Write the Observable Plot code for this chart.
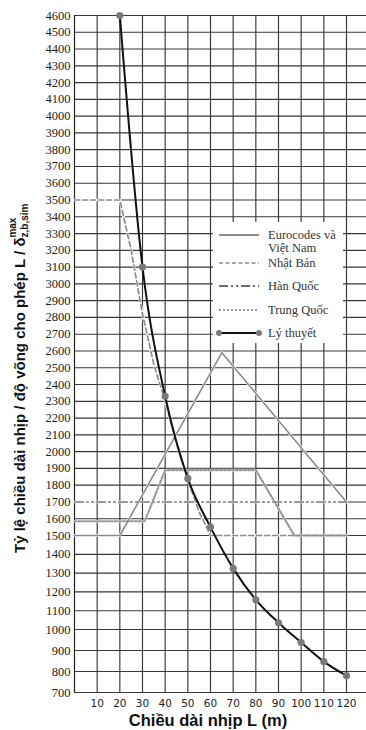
<!DOCTYPE html>
<html>
<head>
<meta charset="utf-8">
<script src="https://cdn.jsdelivr.net/npm/d3@7"></script>
<script src="https://cdn.jsdelivr.net/npm/@observablehq/plot@0.6"></script>
<style>
  html, body { margin: 0; padding: 0; background: #fff; }
  #wrap { position: relative; width: 366px; height: 730px; overflow: hidden; }
  #legend { position: absolute; left: 213px; top: 222px; width: 130px; height: 121px; background: #fff; }
</style>
</head>
<body>
<div id="wrap"></div>
<script>
// ---- data ----
const xTicks = [10, 20, 30, 40, 50, 60, 70, 80, 90, 100, 110, 120];
const yTicks = [700, 800, 900, 1000, 1100, 1200, 1300, 1400, 1500, 1600, 1700, 1800, 1900,
  2000, 2100, 2200, 2300, 2400, 2500, 2600, 2700, 2800, 2900, 3000, 3100, 3200, 3300,
  3400, 3500, 3600, 3700, 3800, 3900, 4000, 4100, 4200, 4300, 4400, 4500, 4600];

const euroL = [0, 20, 65, 120];
const euroV = [1500, 1500, 2590, 1700];

const japanL = [0, 20, 25, 30, 35, 40, 45, 50, 55, 60, 120];
const japanV = [3500, 3500, 3200, 2820, 2520, 2300, 2050, 1830, 1640, 1500, 1500];

const koreaL = [0, 120];
const koreaV = [1700, 1700];

const chinaL = [0, 31, 40, 80, 97, 120];
const chinaV = [1585, 1585, 1890, 1890, 1500, 1500];

const theoryL = [20, 30, 40, 50, 60, 70, 80, 90, 100, 110, 120];
const theoryV = [4600, 3100, 2330, 1840, 1550, 1325, 1158, 1036, 938, 847, 780];

const seriesNames = ["Eurocodes và|Việt Nam", "Nhật Bản", "Hàn Quốc", "Trung Quốc", "Lý thuyết"];

const toRows = (L, V) => L.map((l, i) => ({L: l, v: V[i]}));
const euro = toRows(euroL, euroV);
const japan = toRows(japanL, japanV);
const korea = toRows(koreaL, koreaV);
const china = toRows(chinaL, chinaV);
const theory = toRows(theoryL, theoryV);

const gridColor = "#383838";
const grayLine = "#8c8c8c";
const under = (rows) => Plot.line(rows, {x: "L", y: "v", stroke: "#fff", strokeWidth: 2.6});

const chart = Plot.plot({
  width: 366,
  height: 730,
  x: {domain: [0, 120], range: [74, 346], axis: null},
  y: {type: "linear", domain: [700, 1000, 1500, 4600], range: [692, 629, 535, 15], axis: null},
  style: {background: "#fff"},
  marks: [
    Plot.ruleY(yTicks, {y: d => d, x1: 0, x2: 130, stroke: gridColor, strokeWidth: 1.15}),
    Plot.ruleX(xTicks, {x: d => d, y1: 700, y2: 4600, stroke: gridColor, strokeWidth: 1.15}),
    Plot.ruleX([0], {x: d => d, y1: 700, y2: 4600, stroke: "#222", strokeWidth: 1.2}),
    Plot.text(yTicks, {x: 0, y: d => d, text: d => String(d), dx: -4, textAnchor: "end",
      fontFamily: "Liberation Serif", fontSize: 12.5, fill: "#222", ariaLabel: "ytick"}),
    Plot.text(xTicks, {x: d => d, y: 700, text: d => String(d), dy: 11,
      fontFamily: "DejaVu Sans", fontSize: 10.5, fill: "#222", ariaLabel: "xtick"}),
    under(korea), under(china), under(japan), under(euro),
    Plot.line(korea, {x: "L", y: "v", stroke: "#7a7a7a", strokeWidth: 1.4, strokeDasharray: "9,3,2,3,2,3"}),
    Plot.line(china, {x: "L", y: "v", stroke: "#999", strokeWidth: 2.2, strokeDasharray: "2,2"}),
    Plot.line(japan, {x: "L", y: "v", stroke: grayLine, strokeWidth: 1.7, strokeDasharray: "5,3"}),
    Plot.line(euro, {x: "L", y: "v", stroke: grayLine, strokeWidth: 1.6}),
    Plot.line(theory, {x: "L", y: "v", stroke: "#111", strokeWidth: 2, curve: "monotone-x"}),
    Plot.dot(theory, {x: "L", y: "v", r: 3.6, fill: "#7a7a7a", stroke: "none"})
  ]
});

d3.select(chart).selectAll('g[aria-label="ytick"] text').attr("letter-spacing", "1");

const svg = d3.select(chart);
// x axis title
svg.append("text")
  .attr("x", 208).attr("y", 726)
  .attr("text-anchor", "middle")
  .attr("font-family", "Liberation Sans, Arial, sans-serif")
  .attr("font-weight", "bold").attr("font-size", 16.5).attr("fill", "#111")
  .text("Chiều dài nhịp L (m)");

// y axis title with sub/superscript
const yt = svg.append("text")
  .attr("transform", "translate(25,553) rotate(-90)")
  .attr("text-anchor", "start")
  .attr("font-family", "Liberation Sans, Arial, sans-serif")
  .attr("font-weight", "bold").attr("font-size", 15).attr("fill", "#111");
yt.append("tspan").text("Tỷ lệ chiều dài nhịp / độ võng cho phép L / δ");
yt.append("tspan").attr("font-size", 10).attr("dy", 3).text("z,b,sim");
yt.append("tspan").attr("font-size", 10).attr("dx", -34).attr("dy", -12).text("max");

const wrap = document.getElementById("wrap");
wrap.appendChild(chart);

// legend overlay
const leg = document.createElement("div");
leg.id = "legend";
wrap.appendChild(leg);
const ls = d3.select(leg).append("svg").attr("width", 130).attr("height", 121);
const items = [
  {name: seriesNames[0], y: 13, stroke: grayLine, dash: null, w: 1.8},
  {name: seriesNames[1], y: 41, stroke: grayLine, dash: "4,2.5", w: 1.7},
  {name: seriesNames[2], y: 64, stroke: "#6a6a6a", dash: "9,3,2,3,2,3", w: 1.8},
  {name: seriesNames[3], y: 88, stroke: "#999", dash: "2,2", w: 1.8},
  {name: seriesNames[4], y: 111, stroke: "#111", dash: null, w: 1.8, dots: true}
];
for (const it of items) {
  const ln = ls.append("line").attr("x1", 6).attr("x2", 46).attr("y1", it.y).attr("y2", it.y)
    .attr("stroke", it.stroke).attr("stroke-width", it.w);
  if (it.dash) ln.attr("stroke-dasharray", it.dash);
  if (it.dots) {
    ls.append("circle").attr("cx", 6).attr("cy", it.y).attr("r", 3).attr("fill", "#7a7a7a");
    ls.append("circle").attr("cx", 46).attr("cy", it.y).attr("r", 3).attr("fill", "#7a7a7a");
  }
  const parts = it.name.split("|");
  parts.forEach((p, i) => {
    ls.append("text").attr("x", 55).attr("y", it.y + 4 + i * 13)
      .attr("font-family", "Liberation Serif, serif").attr("font-size", 12.5).attr("fill", "#333")
      .text(p);
  });
}
</script>
</body>
</html>
